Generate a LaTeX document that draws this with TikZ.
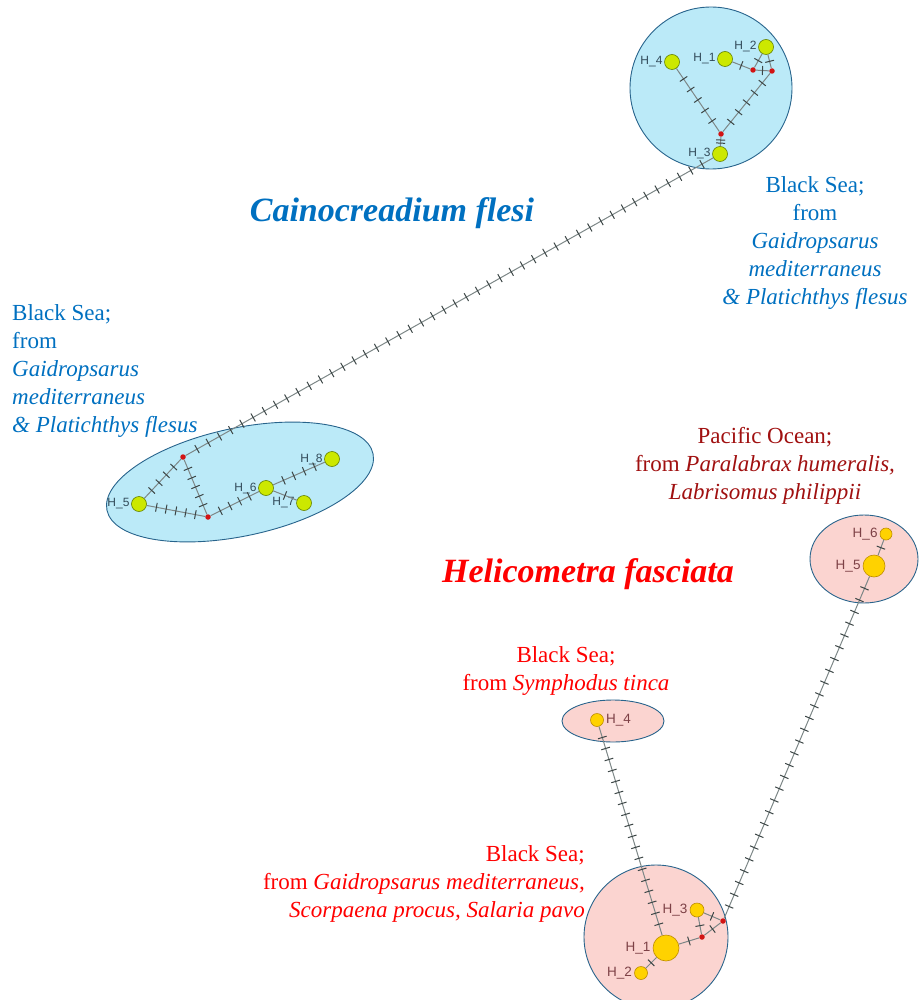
\documentclass[tikz,border=0pt]{standalone}
\usepackage{fontspec}
\setmainfont{Liberation Serif}
\newfontfamily\labfont{Liberation Sans}
\usetikzlibrary{decorations.markings}
\definecolor{txtblue}{RGB}{0,112,192}
\definecolor{txtred}{RGB}{255,0,0}
\definecolor{txtdark}{RGB}{160,16,16}
\definecolor{fillblue}{RGB}{187,234,248}
\definecolor{fillpink}{RGB}{251,212,208}
\definecolor{ringcol}{RGB}{40,100,140}
\definecolor{greenfill}{RGB}{204,232,0}
\definecolor{greenedge}{RGB}{100,130,0}
\definecolor{yelfill}{RGB}{255,210,0}
\definecolor{yeledge}{RGB}{190,140,0}
\definecolor{mvred}{RGB}{210,20,20}
\definecolor{linkcol}{RGB}{125,135,135}
\definecolor{tickcol}{RGB}{60,70,70}
\definecolor{labtop}{RGB}{50,75,90}
\definecolor{labbot}{RGB}{125,65,70}
\begin{document}
\begin{tikzpicture}[x=1pt,y=-1pt,
  ring/.style={draw=ringcol, line width=0.9pt},
  hapG/.style={circle, draw=greenedge, fill=greenfill, line width=0.6pt, inner sep=0pt, minimum size=#1},
  hapY/.style={circle, draw=yeledge, fill=yelfill, line width=0.6pt, inner sep=0pt, minimum size=#1},
  mv/.style={circle, fill=mvred, inner sep=0pt, minimum size=5.5pt},
  hlabT/.style={font=\labfont\fontsize{12}{13}\selectfont, text=labtop, inner sep=1.5pt},
  hlabB/.style={font=\labfont\fontsize{13.5}{14}\selectfont, text=labbot, inner sep=2pt},
  lnk/.style={draw=linkcol, line width=1pt},
  tickln/.style={draw=tickcol, line width=1pt},
  muts/.style={postaction={decorate, decoration={markings,
     mark=between positions {1/(#1+1)} and {(#1+0.5)/(#1+1)} step {1/(#1+1)} with {\draw[tickln] (0pt,-4.5pt) -- (0pt,4.5pt);}}}},
  body/.style={font=\fontsize{23}{28}\selectfont, inner sep=0pt},
  title/.style={font=\fontsize{34}{40}\selectfont\bfseries\itshape, inner sep=0pt}
]
\useasboundingbox (0,0) rectangle (919,1000);
\clip (0,0) rectangle (919,1000);

% background groups
\draw[ring, fill=fillblue] (711,88) circle[radius=81pt];
\draw[ring, fill=fillblue, rotate around={12:(240,482)}] (240,482) ellipse[x radius=136pt, y radius=54pt];
\draw[ring, fill=fillpink] (864,559) ellipse[x radius=54pt, y radius=44pt];
\draw[ring, fill=fillpink] (613,721) ellipse[x radius=51pt, y radius=21pt];
\draw[ring, fill=fillpink] (656,937) circle[radius=72pt];

% Cainocreadium haplotypes
\node[hapG=15pt, label={[hlabT]left:H\_4}] (c4) at (672,62) {};
\node[hapG=15pt, label={[hlabT]left:H\_1}] (c1) at (725,59) {};
\node[hapG=15pt, label={[hlabT]left:H\_2}] (c2) at (766,47) {};
\node[hapG=15pt, label={[hlabT]left:H\_3}] (c3) at (720,154) {};
\node[mv] (cm1) at (753,70) {};
\node[mv] (cm2) at (772,71) {};
\node[mv] (cm3) at (721,134) {};
\node[hapG=15pt, label={[hlabT]left:H\_5}] (c5) at (139,504) {};
\node[hapG=15pt, label={[hlabT]left:H\_6}] (c6) at (266,488) {};
\node[hapG=15pt, label={[hlabT]left:H\_7}] (c7) at (304,503) {};
\node[hapG=15pt, label={[hlabT]left:H\_8}] (c8) at (332,459) {};
\node[mv] (cmA) at (183,457) {};
\node[mv] (cmB) at (208,517) {};

\draw[lnk, muts=1] (c1) -- (cm1);
\draw[lnk, muts=1] (cm1) -- (cm2);
\draw[lnk, muts=1] (cm1) -- (c2);
\draw[lnk, muts=1] (cm2) -- (c2);
\draw[lnk, muts=5] (cm2) -- (cm3);
\draw[lnk, muts=5] (c4) -- (cm3);
\draw[lnk, muts=2] (cm3) -- (c3);
\draw[lnk, muts=46] (c3) -- (cmA);
\draw[lnk, muts=4] (cmA) -- (c5);
\draw[lnk, muts=5] (cmA) -- (cmB);
\draw[lnk, muts=5] (c5) -- (cmB);
\draw[lnk, muts=4] (cmB) -- (c6);
\draw[lnk, muts=4] (c6) -- (c8);
\draw[lnk, muts=1] (c6) -- (c7);

% Helicometra haplotypes
\node[hapY=13pt, label={[hlabB]right:H\_4}] (h4) at (597,720) {};
\node[hapY=26pt, label={[hlabB]left:H\_1}] (h1) at (666,948) {};
\node[hapY=13pt, label={[hlabB]left:H\_2}] (h2) at (641,973) {};
\node[hapY=14pt, label={[hlabB]left:H\_3}] (h3) at (697,910) {};
\node[mv] (hmc) at (702,937) {};
\node[mv] (hmd) at (723,921) {};
\node[hapY=22pt, label={[hlabB]left:H\_5}] (h5) at (874,566) {};
\node[hapY=12pt, label={[hlabB]left:H\_6}] (h6) at (886,534) {};

\draw[lnk, muts=18] (h4) -- (h1);
\draw[lnk, muts=1] (h1) -- (h2);
\draw[lnk, muts=1] (h1) -- (hmc);
\draw[lnk, muts=1] (hmc) -- (hmd);
\draw[lnk, muts=1] (hmc) -- (h3);
\draw[lnk, muts=1] (h3) -- (hmd);
\draw[lnk, muts=28] (hmd) -- (h5);
\draw[lnk, muts=1] (h5) -- (h6);

% texts
\node[title, text=txtblue] (tcain) at (392,213) {Cainocreadium flesi};
\node[title, text=txtred] (thel) at (588,574) {Helicometra fasciata};
\node[body, text=txtblue, align=center, anchor=north] (tbs1) at (815,176)
  {Black Sea;\\from\\\textit{Gaidropsarus}\\\textit{mediterraneus}\\\textit{\& Platichthys flesus}};
\node[body, text=txtblue, align=left, anchor=north west] (tbs2) at (12,304)
  {Black Sea;\\from\\\textit{Gaidropsarus}\\\textit{mediterraneus}\\\textit{\& Platichthys flesus}};
\node[body, text=txtdark, align=center, anchor=north] (tpac) at (765,427)
  {Pacific Ocean;\\from \textit{Paralabrax humeralis,}\\\textit{Labrisomus philippii}};
\node[body, text=txtred, align=center, anchor=north] (tsym) at (566,646)
  {Black Sea;\\from \textit{Symphodus tinca}};
\node[body, text=txtred, align=right, anchor=north east] (tgai) at (585,845)
  {Black Sea;\\from \textit{Gaidropsarus mediterraneus,}\\\textit{Scorpaena procus, Salaria pavo}};
\end{tikzpicture}
\end{document}
